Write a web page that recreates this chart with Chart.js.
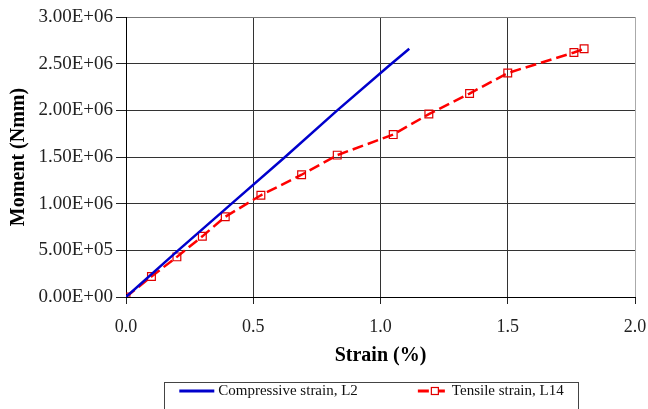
<!DOCTYPE html>
<html>
<head>
<meta charset="utf-8">
<script src="https://cdn.jsdelivr.net/npm/chart.js@4.4.1/dist/chart.umd.min.js"></script>
<style>
  body { margin: 0; background: #fff; }
  #caixa { width: 648px; height: 409px; }
</style>
</head>
<body>
<div id="caixa"><canvas id="graficoMomento"></canvas></div>
<script>
// deformação de compressão, L2
const deformacaoComp = [0, 0.205, 0.415, 0.625, 0.83, 1.03, 1.113];
const momentoComp = [0, 5.0e5, 1.0e6, 1.5e6, 2.0e6, 2.47e6, 2.66e6];

// deformação de tração, L14
const deformacaoTracao = [0, 0.10, 0.20, 0.30, 0.39, 0.53, 0.69, 0.83, 1.05, 1.19, 1.35, 1.50, 1.76, 1.80];
const momentoTracao = [0, 2.2e5, 4.3e5, 6.5e5, 8.6e5, 1.09e6, 1.31e6, 1.52e6, 1.74e6, 1.96e6, 2.18e6, 2.40e6, 2.62e6, 2.66e6];

const ticksX = [0, 0.5, 1.0, 1.5, 2.0];
const ticksY = [0, 5e5, 1e6, 1.5e6, 2e6, 2.5e6, 3e6];

const nomes = ["Compressive strain, L2", "Tensile strain, L14"];

const fonte = "'Liberation Serif', 'Times New Roman', serif";

function formatoE(v) {
  if (v === 0) return "0.00E+00";
  const exp = Math.floor(Math.log10(v) + 1e-9);
  const mant = v / Math.pow(10, exp);
  return mant.toFixed(2) + "E+" + String(exp).padStart(2, "0");
}

function pares(xs, ys) {
  return xs.map((x, i) => ({ x: x, y: ys[i] }));
}

// legenda com moldura, desenhada à mão
const legendaCaixa = {
  id: "legendaCaixa",
  afterDraw(chart) {
    const ctx = chart.ctx;
    const ds = chart.data.datasets;
    const amostra = [35, 30];
    ctx.save();
    ctx.font = "15px " + fonte;
    const larguras = ds.map((d, i) => amostra[i] + 4 + ctx.measureText(d.label).width);
    const espaco = 60;
    const total = larguras[0] + espaco + larguras[1];
    const centro = (chart.chartArea.left + chart.chartArea.right) / 2 - 9;
    let x = centro - total / 2;
    const y = 391;

    ctx.strokeStyle = "#444";
    ctx.lineWidth = 1;
    ctx.strokeRect(Math.round(x - 15) + 0.5, 382.5, Math.round(total + 30), 40);

    ds.forEach((d, i) => {
      ctx.strokeStyle = d.borderColor;
      ctx.lineWidth = d.borderWidth + 0.5;
      ctx.setLineDash(d.borderDash || []);
      ctx.beginPath();
      ctx.moveTo(x, y);
      ctx.lineTo(x + amostra[i], y);
      ctx.stroke();
      ctx.setLineDash([]);
      if (d.pointRadius > 0) {
        const lado = 7;
        const cx = x + amostra[i] / 2 + 2;
        ctx.fillStyle = "#fff";
        ctx.fillRect(cx - lado / 2, y - lado / 2, lado, lado);
        ctx.strokeStyle = d.pointBorderColor;
        ctx.lineWidth = 1.2;
        ctx.strokeRect(cx - lado / 2, y - lado / 2, lado, lado);
      }
      ctx.fillStyle = "#111";
      ctx.textAlign = "left";
      ctx.textBaseline = "middle";
      ctx.fillText(d.label, x + amostra[i] + 4, y);
      x += larguras[i] + espaco;
    });
    ctx.restore();
  },
};

new Chart(document.getElementById("graficoMomento"), {
  type: "line",
  data: {
    datasets: [
      {
        label: nomes[0],
        data: pares(deformacaoComp, momentoComp),
        borderColor: "#0000CC",
        borderWidth: 2.5,
        pointRadius: 0,
        tension: 0,
      },
      {
        label: nomes[1],
        data: pares(deformacaoTracao, momentoTracao),
        borderColor: "#FF0000",
        borderWidth: 2.5,
        borderDash: [11, 5],
        pointStyle: "rect",
        pointRadius: 5.5,
        pointBorderWidth: 1.2,
        pointBorderColor: "#E00000",
        pointBackgroundColor: "rgba(255,255,255,0)",
        tension: 0,
      },
    ],
  },
  options: {
    responsive: true,
    maintainAspectRatio: false,
    animation: false,
    layout: { padding: { top: 17, right: 13, bottom: 30, left: 0 } },
    plugins: {
      legend: { display: false },
      tooltip: { enabled: false },
    },
    scales: {
      x: {
        type: "linear",
        min: 0,
        max: 2,
        afterBuildTicks: (s) => { s.ticks = ticksX.map((v) => ({ value: v })); },
        afterFit: (s) => {
          s.height = 82;
          s.paddingRight = 7;
        },
        ticks: {
          color: "#222",
          font: { family: fonte, size: 18 },
          padding: 12,
          callback: (v) => Number(v).toFixed(1),
        },
        grid: {
          color: (c) => (c.tick && c.tick.value === 2 ? "#aaa" : "#333"),
          tickColor: "#222",
          tickLength: 7,
          lineWidth: 1,
        },
        border: { color: "#000", width: 1 },
        title: {
          display: true,
          text: "Strain (%)",
          color: "#000",
          font: { family: fonte, size: 20, weight: "bold" },
          padding: { top: 0, bottom: 11 },
        },
      },
      y: {
        type: "linear",
        min: 0,
        max: 3e6,
        afterBuildTicks: (s) => { s.ticks = ticksY.map((v) => ({ value: v })); },
        afterFit: (s) => { s.width = 126; },
        ticks: {
          color: "#222",
          font: { family: fonte, size: 19 },
          padding: 3,
          callback: (v) => formatoE(v),
        },
        grid: {
          color: (c) => (c.tick && c.tick.value === 3e6 ? "#777" : "#333"),
          tickColor: "#222",
          tickLength: 10,
          lineWidth: 1,
        },
        border: { color: "#000", width: 1 },
        title: {
          display: true,
          text: "Moment (Nmm)",
          color: "#000",
          font: { family: fonte, size: 20, weight: "bold" },
          padding: { top: 7, bottom: 0 },
        },
      },
    },
  },
  plugins: [legendaCaixa],
});
</script>
</body>
</html>
